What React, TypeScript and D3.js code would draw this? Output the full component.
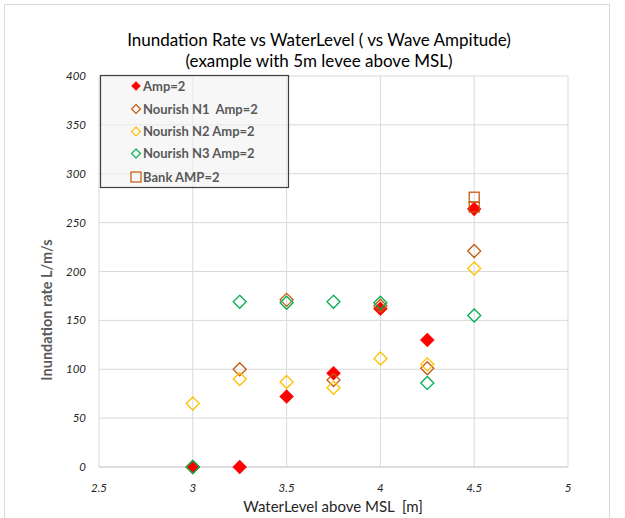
import React from "react";
import * as d3 from "d3";

const xTicks = [2.5, 3, 3.5, 4, 4.5, 5];
const yTicks = [0, 50, 100, 150, 200, 250, 300, 350, 400];

const ampX = [3, 3.25, 3.5, 3.75, 4, 4.25, 4.5];
const ampY = [0, 0, 72, 96, 162, 130, 264];

const n1X = [3, 3.25, 3.5, 3.75, 4, 4.25, 4.5];
const n1Y = [0, 100, 171, 89, 165, 101, 221];

const n2X = [3, 3.25, 3.5, 3.75, 4, 4.25, 4.5];
const n2Y = [65, 90, 87, 81, 111, 105, 203];

const n3X = [3, 3.25, 3.5, 3.75, 4, 4.25, 4.5];
const n3Y = [0, 169, 168, 169, 168, 86, 155];

const bankX = [4.5, 4.5];
const bankY = [276, 266];

const seriesNames = ["Amp=2", "Nourish N1\u00a0 Amp=2", "Nourish N2 Amp=2", "Nourish N3 Amp=2", "Bank AMP=2"];

const W = 625;
const H = 518;
const left = 99, right = 568, top = 76, bottom = 467;

export default function App() {
  const x = d3.scaleLinear().domain([2.5, 5]).range([left, right]);
  const y = d3.scaleLinear().domain([0, 400]).range([bottom, top]);

  const diamond = (cx: number, cy: number, r: number) =>
    `M${cx},${cy - r}L${cx + r},${cy}L${cx},${cy + r}L${cx - r},${cy}Z`;

  const font = "Lato, 'Open Sans', sans-serif";

  const series = [
    { xs: ampX, ys: ampY, color: "#ff0000", filled: true, shape: "d", r: 7 },
    { xs: n1X, ys: n1Y, color: "#c55a11", filled: false, shape: "d", r: 6.5 },
    { xs: n2X, ys: n2Y, color: "#ffc000", filled: false, shape: "d", r: 6.5 },
    { xs: n3X, ys: n3Y, color: "#00b050", filled: false, shape: "d", r: 6.5 },
    { xs: bankX, ys: bankY, color: "#c55a11", filled: false, shape: "s", r: 5 },
  ];

  const legendRows = [86, 109, 131.5, 153.5, 177];

  return (
    <svg width={W} height={H} style={{ position: "absolute", left: 0, top: 0, background: "#fff" }} fontFamily={font}>
      <rect x={4.5} y={4.5} width={605} height={530} fill="#fff" stroke="#d9d9d9" />
      <text x={319} y={46} textAnchor="middle" fontSize={17} fill="#000">
        Inundation Rate vs WaterLevel ( vs Wave Ampitude)
      </text>
      <text x={319} y={67} textAnchor="middle" fontSize={17} fill="#000">
        (example with 5m levee above MSL)
      </text>
      {yTicks.map((t) => (
        <line key={"gy" + t} x1={left} x2={right} y1={y(t)} y2={y(t)} stroke="#d9d9d9" strokeWidth={1} />
      ))}
      {xTicks.map((t) => (
        <line key={"gx" + t} x1={x(t)} x2={x(t)} y1={top} y2={bottom} stroke="#d9d9d9" strokeWidth={1} />
      ))}
      <line x1={left} x2={right} y1={bottom} y2={bottom} stroke="#d9d9d9" strokeWidth={1.5} />
      {yTicks.map((t) => (
        <text key={"ty" + t} x={86} y={y(t) + 4} textAnchor="end" fontSize={11.5} fontStyle="italic" fill="#262626">
          {t}
        </text>
      ))}
      {xTicks.map((t) => (
        <text key={"tx" + t} x={x(t)} y={492} textAnchor="middle" fontSize={11.5} fontStyle="italic" fill="#262626">
          {t}
        </text>
      ))}
      <text x={333} y={512} textAnchor="middle" fontSize={15} fill="#262626">
        {"WaterLevel above MSL\u00a0 [m]"}
      </text>
      <text transform={`translate(52,310) rotate(-90)`} textAnchor="middle" fontSize={14.5} fontWeight="bold" fill="#595959">
        Inundation rate L/m/s
      </text>
      {series.map((s, si) => (
        <g key={"s" + si}>
          {s.xs.map((xv, i) =>
            s.shape === "d" ? (
              <path
                key={i}
                d={diamond(x(xv), y(s.ys[i]), s.r)}
                fill={s.filled ? s.color : "none"}
                stroke={s.color}
                strokeWidth={s.filled ? 0.5 : 1.3}
              />
            ) : (
              <rect
                key={i}
                x={x(xv) - s.r}
                y={y(s.ys[i]) - s.r}
                width={s.r * 2}
                height={s.r * 2}
                fill="none"
                stroke={s.color}
                strokeWidth={1.3}
              />
            )
          )}
        </g>
      ))}
      <rect x={100.5} y={75.5} width={188} height={112} fill="#f2f2f2" fillOpacity={0.6} stroke="#404040" strokeWidth={1.2} />
      {series.map((s, si) => {
        const cy = legendRows[si];
        const cx = 136;
        return (
          <g key={"l" + si}>
            {s.shape === "d" ? (
              <path
                d={diamond(cx, cy, 4.5)}
                fill={s.filled ? s.color : "none"}
                stroke={s.color}
                strokeWidth={s.filled ? 0.5 : 1.2}
              />
            ) : (
              <rect x={cx - 5} y={cy - 5} width={10} height={10} fill="none" stroke={s.color} strokeWidth={1.2} />
            )}
            <text x={143} y={cy + 4.5} fontSize={13} fontWeight="bold" fill="#595959">
              {seriesNames[si]}
            </text>
          </g>
        );
      })}
    </svg>
  );
}
